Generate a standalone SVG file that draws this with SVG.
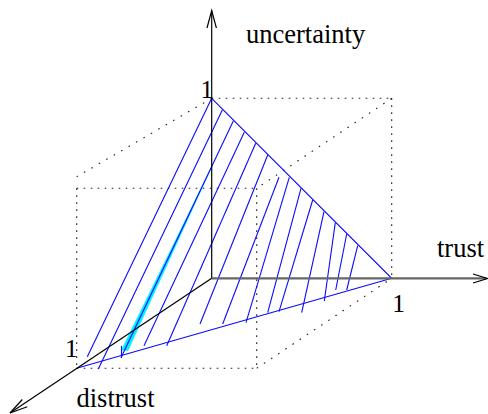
<svg xmlns="http://www.w3.org/2000/svg" width="488" height="414" viewBox="0 0 488 414">
<style>
.dot{fill:none;stroke:#222;stroke-width:1.1;stroke-dasharray:1.6 5.4}
.dotd{fill:none;stroke:#222;stroke-width:1.1;stroke-dasharray:1.6 7}
.ax{fill:none;stroke:#000;stroke-width:1.2}
.axg{fill:none;stroke:#666;stroke-width:2.2}
.bl{fill:none;stroke:#0a0aff;stroke-width:1.1}
text{font-family:"Liberation Serif","Times New Roman",serif;fill:#000;font-size:26.5px}
.one{font-size:25.5px}
</style>
<rect width="488" height="414" fill="#fff"/>
<g id="cube">
<path class="dot" d="M211.7,98.3H391.7"/>
<path class="dot" d="M391.7,98.3V278.3"/>
<path class="dotd" d="M391.7,98.3L256.7,188.3"/>
<path class="dotd" d="M211.7,98.3L76.7,176.7"/>
<path class="dot" d="M76.7,188.3H256.7"/>
<path class="dot" d="M76.7,188.3V368.3"/>
<path class="dot" d="M256.7,188.3V368.3"/>
<path class="dot" d="M76.7,368.3H256.7"/>
<path class="dotd" d="M256.7,368.3L391.7,278.3"/>
</g>
<g id="surface">
<polygon id="cyan-band" points="212,166 121.5,350 128,350.5" fill="#00f0ff" stroke="#00f0ff" stroke-width="0.6"/>
<g id="hatch" class="bl">
<line x1="211.7" y1="98.3" x2="87.3" y2="356.7"/>
<line x1="222.3" y1="110" x2="98.3" y2="369"/>
<line x1="233.3" y1="121" x2="121" y2="357.7"/>
<line x1="244.3" y1="132.3" x2="144" y2="345.7"/>
<line x1="255.7" y1="143.3" x2="166.7" y2="345.7"/>
<line x1="267.7" y1="155" x2="200" y2="324"/>
<line x1="279" y1="177.3" x2="222.7" y2="324"/>
<line x1="289.3" y1="177.3" x2="246" y2="322.7"/>
<line x1="301" y1="188.3" x2="267.7" y2="312.7"/>
<line x1="312.7" y1="200" x2="279" y2="311.7"/>
<line x1="324" y1="211.7" x2="301.7" y2="312.7"/>
<line x1="335.3" y1="222.7" x2="324.3" y2="301"/>
<line x1="346.7" y1="234" x2="335.7" y2="290"/>
<line x1="357.7" y1="245.7" x2="346.7" y2="290"/>
<line x1="121.5" y1="346" x2="121.5" y2="358"/>
</g>
<path id="triangle-edges" class="bl" d="M211.7,98.3L391.7,278.3L76.7,368.3"/>
</g>
<g id="axes">
<g id="axis-uncertainty">
<line class="ax" x1="211.7" y1="278.3" x2="211.7" y2="10.5"/>
<polyline class="ax" points="207,28 211.7,10.5 216.4,28"/>
</g>
<g id="axis-trust">
<line class="axg" x1="211.7" y1="278.3" x2="486" y2="278.3"/>
<polyline class="ax" points="473,274 487.5,278.5 473,283" stroke="#444"/>
</g>
<g id="axis-distrust">
<line class="ax" x1="211.7" y1="278.3" x2="10" y2="413"/>
<polyline class="ax" points="22.3,399.5 10,413 27.3,406.7"/>
</g>
</g>
<g id="labels">
<text x="246" y="42.5">uncertainty</text>
<text x="437" y="256.5">trust</text>
<text x="76.5" y="407">distrust</text>
<text class="one" x="200.5" y="97.8">1</text>
<text class="one" x="392.2" y="311.7">1</text>
<text class="one" x="64.9" y="357">1</text>
</g>
</svg>
